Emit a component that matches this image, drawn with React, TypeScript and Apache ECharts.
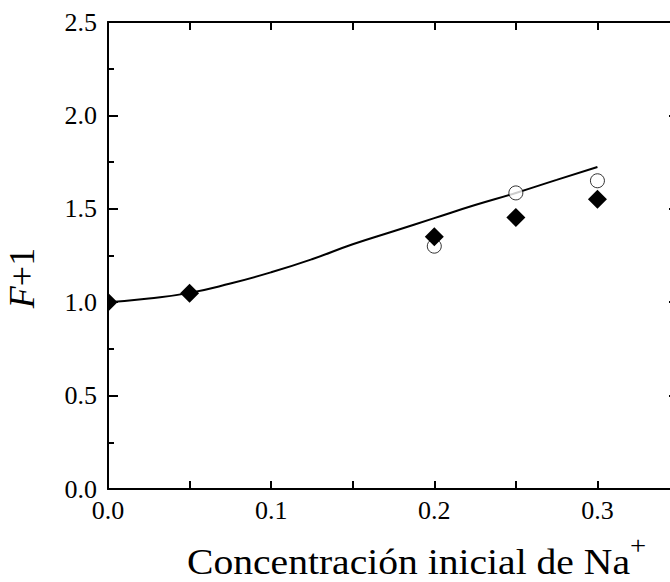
import React, { useEffect, useRef } from "react";
import * as echarts from "echarts";

const modelX = [0, 0.025, 0.05, 0.075, 0.1, 0.125, 0.15, 0.175, 0.2, 0.225, 0.25, 0.275, 0.3];
const modelY = [1.0, 1.02, 1.05, 1.1, 1.16, 1.23, 1.31, 1.38, 1.45, 1.52, 1.585, 1.655, 1.724];

const diamondX = [0, 0.05, 0.2, 0.25, 0.3];
const diamondY = [1.0, 1.048, 1.35, 1.454, 1.551];

const circleX = [0.2, 0.25, 0.3];
const circleY = [1.3, 1.585, 1.65];

const xTitle = "Concentración inicial de Na";
const xTitleSup = "+";
const yTitleItalic = "F";
const yTitleRest = "+1";

const FONT = "'Liberation Serif', 'Times New Roman', serif";

export default function App() {
  const ref = useRef<HTMLDivElement>(null);
  useEffect(() => {
    if (!ref.current) return;
    const chart = echarts.init(ref.current, undefined, { renderer: "svg" });
    const axisCommon = {
      axisLine: { show: true, onZero: false, lineStyle: { color: "#000", width: 2 } },
      splitLine: { show: false },
      minorSplitLine: { show: false },
    };
    const xLabel = (v: number) => {
      const r = Math.round(v * 100);
      if (r % 10 !== 0 || r > 30) return "";
      return (r / 100).toFixed(1);
    };
    const yLabel = (v: number) => {
      const r = Math.round(v * 100);
      if (r % 50 !== 0) return "";
      return (r / 100).toFixed(1);
    };
    const xBase = {
      type: "value",
      min: 0,
      max: 0.35,
      interval: 0.05,
      ...axisCommon,
      axisTick: { show: true, inside: true, length: 8, lineStyle: { color: "#000", width: 2 } },
    };
    const yBase = {
      type: "value",
      min: 0,
      max: 2.5,
      interval: 0.5,
      ...axisCommon,
      axisTick: { show: true, inside: true, length: 10, lineStyle: { color: "#000", width: 2 } },
      minorTick: { show: true, splitNumber: 2, length: 6, lineStyle: { color: "#000", width: 2 } },
    };
    chart.setOption({
      animation: false,
      backgroundColor: "#fff",
      grid: { left: 108, top: 22, right: 21, bottom: 93, containLabel: false },
      xAxis: [
        {
          ...xBase,
          position: "bottom",
          axisLabel: { show: true, formatter: xLabel, color: "#000", fontSize: 26, fontFamily: FONT, margin: 8 },
        },
        {
          ...xBase,
          position: "top",
          axisLabel: { show: false },
        },
      ],
      yAxis: [
        {
          ...yBase,
          position: "left",
          axisLabel: { show: true, formatter: yLabel, color: "#000", fontSize: 26, fontFamily: FONT, margin: 11 },
        },
        {
          ...yBase,
          position: "right",
          axisLabel: { show: false },
        },
      ],
      series: [
        {
          type: "line",
          data: modelX.map((x, i) => [x, modelY[i]]),
          showSymbol: false,
          smooth: true,
          lineStyle: { color: "#000", width: 2 },
          z: 2,
        },
        {
          type: "scatter",
          data: circleX.map((x, i) => [x, circleY[i]]),
          symbol: "circle",
          symbolSize: 14,
          itemStyle: { color: "#fff", borderColor: "#000", borderWidth: 1 },
          z: 3,
        },
        {
          type: "custom",
          clip: true,
          z: 4,
          data: diamondX.map((x, i) => [x, diamondY[i]]),
          renderItem: (params: any, api: any) => {
            const p = api.coord([api.value(0), api.value(1)]);
            const cs = params.coordSys;
            const r = 9.5;
            return {
              type: "group",
              clipPath: {
                type: "rect",
                shape: { x: cs.x, y: cs.y, width: cs.width, height: cs.height },
              },
              children: [
                {
                  type: "polygon",
                  shape: {
                    points: [
                      [p[0], p[1] - r],
                      [p[0] + r, p[1]],
                      [p[0], p[1] + r],
                      [p[0] - r, p[1]],
                    ],
                  },
                  style: { fill: "#000" },
                },
              ],
            };
          },
        },
      ],
      graphic: [
        {
          type: "text",
          x: 187,
          y: 532,
          scaleX: 1.1,
          style: {
            text: `{a|${xTitle}}{s|${xTitleSup}}`,
            fill: "#000",
            align: "left",
            verticalAlign: "top",
            rich: {
              a: { fontSize: 36, lineHeight: 48, fontFamily: FONT, fill: "#000", verticalAlign: "bottom" },
              s: { fontSize: 26, lineHeight: 24, fontFamily: FONT, fill: "#000", verticalAlign: "top" },
            },
          },
        },
        {
          type: "text",
          x: 22,
          y: 278,
          rotation: Math.PI / 2,
          style: {
            text: `{i|${yTitleItalic}}{n|${yTitleRest}}`,
            fill: "#000",
            align: "center",
            verticalAlign: "middle",
            rich: {
              i: { fontSize: 36, fontFamily: FONT, fontStyle: "italic", fill: "#000" },
              n: { fontSize: 36, fontFamily: FONT, fill: "#000" },
            },
          },
        },
      ],
    });
    return () => chart.dispose();
  }, []);
  return (
    <div style={{ position: "fixed", left: 0, top: 0, width: 670, height: 582, overflow: "hidden", background: "#fff" }}>
      <div ref={ref} style={{ width: 700, height: 582 }} />
    </div>
  );
}
